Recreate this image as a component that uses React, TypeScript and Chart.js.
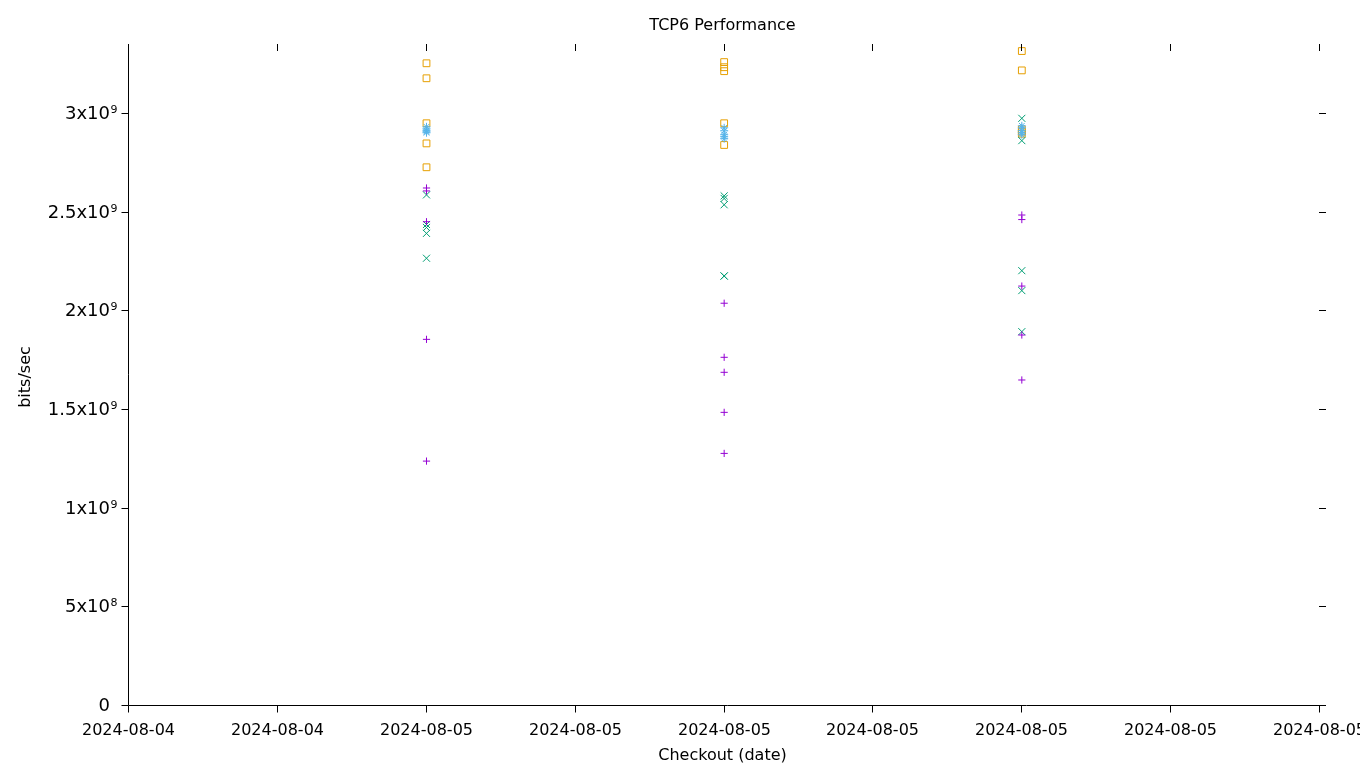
import React, { useEffect, useRef } from "react";
import { Chart, registerables } from "chart.js";

Chart.register(...registerables);

// X axis: checkout tick labels at positions 0..8
const xTickLabels = [
  "2024-08-04",
  "2024-08-04",
  "2024-08-05",
  "2024-08-05",
  "2024-08-05",
  "2024-08-05",
  "2024-08-05",
  "2024-08-05",
  "2024-08-05",
];
// positions of the three checkouts on the x scale
const checkoutX = [2, 4, 6];

// series values (bits/sec), one list per checkout
const plusValues = [
  [2.62e9, 2.605e9, 2.449e9, 1.853e9, 1.236e9],
  [2.036e9, 1.762e9, 1.686e9, 1.483e9, 1.275e9],
  [2.483e9, 2.46e9, 2.123e9, 1.875e9, 1.647e9],
];
const crossValues = [
  [2.585e9, 2.435e9, 2.42e9, 2.39e9, 2.264e9],
  [2.58e9, 2.567e9, 2.535e9, 2.174e9, 2.174e9],
  [2.973e9, 2.86e9, 2.201e9, 2.1e9, 1.892e9],
];
const starValues = [
  [2.93e9, 2.92e9, 2.912e9, 2.905e9, 2.9e9],
  [2.925e9, 2.91e9, 2.89e9, 2.88e9, 2.87e9],
  [2.935e9, 2.925e9, 2.91e9, 2.9e9, 2.89e9],
];
const squareValues = [
  [3.252e9, 3.176e9, 2.948e9, 2.846e9, 2.725e9],
  [3.258e9, 3.232e9, 3.212e9, 2.948e9, 2.838e9],
  [3.314e9, 3.216e9, 2.917e9, 2.905e9, 2.895e9],
];

const yTickValues = [0, 5e8, 1e9, 1.5e9, 2e9, 2.5e9, 3e9];
const yTickBase = ["0", "5x10", "1x10", "1.5x10", "2x10", "2.5x10", "3x10"];
const yTickExp = ["", "8", "9", "9", "9", "9", "9"];

const toPoints = (groups: number[][]) =>
  groups.flatMap((vals, i) => vals.map((y) => ({ x: checkoutX[i], y })));

const FONT = '"DejaVu Sans", sans-serif';

const axesPlugin = {
  id: "gnuplotAxes",
  afterDraw(chart: any) {
    const ctx: CanvasRenderingContext2D = chart.ctx;
    const { left, right, top, bottom } = chart.chartArea;
    const xs = chart.scales.x;
    const ys = chart.scales.y;
    const L = Math.floor(left) + 0.5;
    const B = Math.round(bottom) + 0.5;
    const R = Math.round(right);
    const T = Math.round(top);
    ctx.save();
    ctx.strokeStyle = "#000";
    ctx.lineWidth = 1;
    ctx.beginPath();
    ctx.moveTo(L, T);
    ctx.lineTo(L, B);
    ctx.lineTo(R, B);
    // x ticks (bottom outward, top inward)
    for (let i = 0; i < xTickLabels.length; i++) {
      const px = Math.floor(xs.getPixelForValue(i)) + 0.5;
      ctx.moveTo(px, B);
      ctx.lineTo(px, B + 7);
      ctx.moveTo(px, T);
      ctx.lineTo(px, T + 7);
    }
    // y ticks (left outward, right inward)
    for (const v of yTickValues) {
      const py = Math.round(ys.getPixelForValue(v)) + 0.5;
      ctx.moveTo(L - 7, py);
      ctx.lineTo(L, py);
      ctx.moveTo(R - 7, py);
      ctx.lineTo(R, py);
    }
    ctx.stroke();

    ctx.fillStyle = "#000";
    // x tick labels
    ctx.font = `16px ${FONT}`;
    ctx.textAlign = "center";
    ctx.textBaseline = "alphabetic";
    xTickLabels.forEach((lab, i) => {
      const px = Math.floor(xs.getPixelForValue(i)) + 0.5;
      ctx.fillText(lab, px, B + 29.5);
    });
    // y tick labels with superscript exponents
    yTickValues.forEach((v, i) => {
      const py = ys.getPixelForValue(v);
      ctx.font = `18px ${FONT}`;
      ctx.textAlign = "right";
      ctx.fillText(yTickBase[i], L - 18.5, py + 6);
      if (yTickExp[i]) {
        ctx.font = `11px ${FONT}`;
        ctx.textAlign = "left";
        ctx.fillText(yTickExp[i], L - 18, py);
      }
    });
    // titles
    ctx.font = `16px ${FONT}`;
    ctx.textAlign = "center";
    ctx.fillText("TCP6 Performance", 722.5, 30);
    ctx.fillText("Checkout (date)", 722.5, 760);
    ctx.save();
    ctx.translate(30, 377);
    ctx.rotate(-Math.PI / 2);
    ctx.fillText("bits/sec", 0, 0);
    ctx.restore();
    ctx.restore();
  },
};

export default function App() {
  const ref = useRef<HTMLCanvasElement | null>(null);
  useEffect(() => {
    if (!ref.current) return;
    const common = {
      showLine: false,
      borderWidth: 1,
      pointBorderWidth: 1,
      pointHoverRadius: 0,
      backgroundColor: "rgba(0,0,0,0)",
      pointBackgroundColor: "rgba(0,0,0,0)",
    };
    const chart = new Chart(ref.current, {
      type: "scatter",
      data: {
        datasets: [
          {
            ...common,
            label: "plus",
            data: toPoints(plusValues),
            pointStyle: "cross",
            pointRadius: 3.6,
            borderColor: "#9400D3",
            pointBorderColor: "#9400D3",
          },
          {
            ...common,
            label: "cross",
            data: toPoints(crossValues),
            pointStyle: "crossRot",
            pointRadius: 5,
            borderColor: "#009E73",
            pointBorderColor: "#009E73",
          },
          {
            ...common,
            label: "star",
            data: toPoints(starValues),
            pointStyle: "star",
            pointRadius: 4,
            borderColor: "#56B4E9",
            pointBorderColor: "#56B4E9",
          },
          {
            ...common,
            label: "square",
            data: toPoints(squareValues),
            pointStyle: "rect",
            pointRadius: 4.8,
            borderColor: "#E69F00",
            pointBorderColor: "#E69F00",
          },
        ] as any,
      },
      options: {
        responsive: false,
        animation: false,
        devicePixelRatio: 1,
        clip: false as any,
        layout: { padding: { left: 128, right: 34, top: 44, bottom: 63 } },
        plugins: {
          legend: { display: false },
          title: { display: false },
          tooltip: { enabled: false },
        },
        events: [],
        scales: {
          x: { type: "linear", display: false, min: -0.0056, max: 8.0438 },
          y: { type: "linear", display: false, min: 0, max: 3.3497e9 },
        },
      },
      plugins: [axesPlugin],
    });
    return () => chart.destroy();
  }, []);
  return (
    <div style={{ position: "absolute", left: 0, top: 0, width: 1360, height: 768, background: "#fff" }}>
      <canvas ref={ref} width={1360} height={768} />
    </div>
  );
}
